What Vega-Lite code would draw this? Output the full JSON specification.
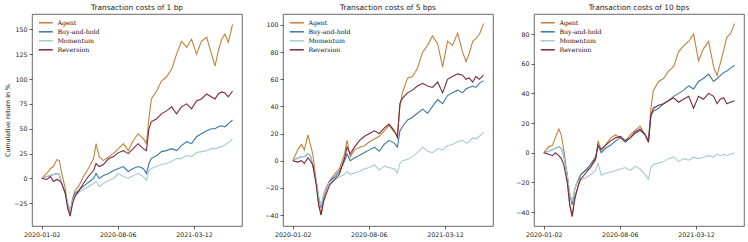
{
  "$schema": "https://vega.github.io/schema/vega-lite/v6.json",
  "padding": {"left": 4, "top": 3, "right": 0, "bottom": 0},
  "background": "white",
  "bounds": "flush",
  "spacing": 41,
  "config": {
    "font": "DejaVu Sans",
    "view": {"stroke": "#444", "strokeWidth": 0.8},
    "axis": {"labelFont": "DejaVu Sans", "labelFontSize": 6.3, "labelColor": "#222", "tickColor": "#333", "tickSize": 3, "tickWidth": 0.8, "labelPadding": 2, "domain": false, "grid": false, "titleFont": "DejaVu Sans", "titleFontSize": 6.3, "titleFontWeight": "normal", "titleColor": "#222"},
    "title": {"font": "DejaVu Sans", "fontSize": 7.4, "fontWeight": "normal", "color": "#222", "offset": 3},
    "legend": {"orient": "none", "legendX": 8.3, "legendY": 3.3, "padding": 0, "title": null, "labelFont": "DejaVu Serif", "labelFontSize": 6.3, "labelColor": "#111", "symbolType": "M-1.5,0H1.5", "symbolSize": 87, "symbolStrokeWidth": 1.5, "rowPadding": 0, "labelOffset": 6.1}
  },
  "datasets": {
    "p1": [
      {"d":"2020-01-02","Agent":0,"Buy-and-hold":0,"Momentum":0,"Reversion":0},
      {"d":"2020-01-16","Agent":5,"Buy-and-hold":2,"Momentum":2,"Reversion":-1},
      {"d":"2020-01-27","Agent":10,"Buy-and-hold":3,"Momentum":3,"Reversion":2},
      {"d":"2020-02-04","Agent":12,"Buy-and-hold":4,"Momentum":4,"Reversion":-3},
      {"d":"2020-02-14","Agent":19,"Buy-and-hold":5,"Momentum":5,"Reversion":-1},
      {"d":"2020-02-21","Agent":18,"Buy-and-hold":4,"Momentum":4,"Reversion":-2},
      {"d":"2020-02-28","Agent":5,"Buy-and-hold":-5,"Momentum":-5,"Reversion":-5},
      {"d":"2020-03-09","Agent":-10,"Buy-and-hold":-15,"Momentum":-15,"Reversion":-15},
      {"d":"2020-03-16","Agent":-28,"Buy-and-hold":-25,"Momentum":-25,"Reversion":-30},
      {"d":"2020-03-23","Agent":-35,"Buy-and-hold":-33,"Momentum":-33,"Reversion":-38},
      {"d":"2020-03-30","Agent":-20,"Buy-and-hold":-22,"Momentum":-22,"Reversion":-25},
      {"d":"2020-04-06","Agent":-12,"Buy-and-hold":-15,"Momentum":-17,"Reversion":-18},
      {"d":"2020-04-16","Agent":-8,"Buy-and-hold":-12,"Momentum":-14,"Reversion":-13},
      {"d":"2020-04-30","Agent":2,"Buy-and-hold":-8,"Momentum":-11,"Reversion":-5},
      {"d":"2020-05-14","Agent":10,"Buy-and-hold":-4,"Momentum":-8,"Reversion":2},
      {"d":"2020-05-29","Agent":20,"Buy-and-hold":0,"Momentum":-5,"Reversion":8},
      {"d":"2020-06-05","Agent":35,"Buy-and-hold":5,"Momentum":-3,"Reversion":15},
      {"d":"2020-06-14","Agent":22,"Buy-and-hold":0,"Momentum":-8,"Reversion":12},
      {"d":"2020-06-26","Agent":18,"Buy-and-hold":3,"Momentum":-5,"Reversion":14},
      {"d":"2020-07-11","Agent":22,"Buy-and-hold":5,"Momentum":-2,"Reversion":20},
      {"d":"2020-07-25","Agent":25,"Buy-and-hold":8,"Momentum":0,"Reversion":22},
      {"d":"2020-08-08","Agent":30,"Buy-and-hold":10,"Momentum":5,"Reversion":26},
      {"d":"2020-08-22","Agent":35,"Buy-and-hold":12,"Momentum":2,"Reversion":28},
      {"d":"2020-09-05","Agent":28,"Buy-and-hold":7,"Momentum":0,"Reversion":25},
      {"d":"2020-09-19","Agent":38,"Buy-and-hold":10,"Momentum":3,"Reversion":30},
      {"d":"2020-10-03","Agent":45,"Buy-and-hold":12,"Momentum":5,"Reversion":35},
      {"d":"2020-10-18","Agent":40,"Buy-and-hold":10,"Momentum":2,"Reversion":30},
      {"d":"2020-10-27","Agent":35,"Buy-and-hold":5,"Momentum":-2,"Reversion":28},
      {"d":"2020-11-03","Agent":60,"Buy-and-hold":15,"Momentum":8,"Reversion":50},
      {"d":"2020-11-10","Agent":80,"Buy-and-hold":20,"Momentum":10,"Reversion":57},
      {"d":"2020-11-25","Agent":88,"Buy-and-hold":23,"Momentum":12,"Reversion":60},
      {"d":"2020-12-09","Agent":98,"Buy-and-hold":27,"Momentum":14,"Reversion":65},
      {"d":"2020-12-23","Agent":102,"Buy-and-hold":28,"Momentum":15,"Reversion":68},
      {"d":"2021-01-07","Agent":110,"Buy-and-hold":30,"Momentum":17,"Reversion":72},
      {"d":"2021-01-21","Agent":125,"Buy-and-hold":28,"Momentum":20,"Reversion":65},
      {"d":"2021-02-04","Agent":138,"Buy-and-hold":33,"Momentum":20,"Reversion":72},
      {"d":"2021-02-19","Agent":132,"Buy-and-hold":37,"Momentum":23,"Reversion":75},
      {"d":"2021-03-05","Agent":140,"Buy-and-hold":35,"Momentum":22,"Reversion":70},
      {"d":"2021-03-19","Agent":125,"Buy-and-hold":42,"Momentum":26,"Reversion":78},
      {"d":"2021-04-02","Agent":138,"Buy-and-hold":45,"Momentum":27,"Reversion":80},
      {"d":"2021-04-17","Agent":142,"Buy-and-hold":48,"Momentum":28,"Reversion":85},
      {"d":"2021-05-01","Agent":125,"Buy-and-hold":50,"Momentum":30,"Reversion":82},
      {"d":"2021-05-11","Agent":113,"Buy-and-hold":50,"Momentum":30,"Reversion":80},
      {"d":"2021-05-20","Agent":128,"Buy-and-hold":52,"Momentum":31,"Reversion":85},
      {"d":"2021-05-30","Agent":140,"Buy-and-hold":53,"Momentum":32,"Reversion":87},
      {"d":"2021-06-08","Agent":145,"Buy-and-hold":52,"Momentum":34,"Reversion":86},
      {"d":"2021-06-18","Agent":137,"Buy-and-hold":55,"Momentum":36,"Reversion":82},
      {"d":"2021-06-30","Agent":155,"Buy-and-hold":59,"Momentum":40,"Reversion":88}
    ],
    "p2": [
      {"d":"2020-01-02","Agent":0,"Buy-and-hold":0,"Momentum":0,"Reversion":0},
      {"d":"2020-01-16","Agent":8,"Buy-and-hold":2,"Momentum":2,"Reversion":-1},
      {"d":"2020-01-27","Agent":12,"Buy-and-hold":3,"Momentum":3,"Reversion":0},
      {"d":"2020-02-04","Agent":8,"Buy-and-hold":3,"Momentum":3,"Reversion":-2},
      {"d":"2020-02-14","Agent":19,"Buy-and-hold":5,"Momentum":5,"Reversion":2},
      {"d":"2020-02-21","Agent":12,"Buy-and-hold":4,"Momentum":4,"Reversion":0},
      {"d":"2020-02-28","Agent":5,"Buy-and-hold":-3,"Momentum":-3,"Reversion":-3},
      {"d":"2020-03-09","Agent":-15,"Buy-and-hold":-15,"Momentum":-15,"Reversion":-18},
      {"d":"2020-03-16","Agent":-32,"Buy-and-hold":-27,"Momentum":-27,"Reversion":-33},
      {"d":"2020-03-23","Agent":-40,"Buy-and-hold":-35,"Momentum":-33,"Reversion":-40},
      {"d":"2020-03-30","Agent":-28,"Buy-and-hold":-25,"Momentum":-25,"Reversion":-30},
      {"d":"2020-04-06","Agent":-22,"Buy-and-hold":-20,"Momentum":-20,"Reversion":-25},
      {"d":"2020-04-16","Agent":-15,"Buy-and-hold":-15,"Momentum":-16,"Reversion":-18},
      {"d":"2020-04-30","Agent":-10,"Buy-and-hold":-12,"Momentum":-14,"Reversion":-14},
      {"d":"2020-05-14","Agent":-6,"Buy-and-hold":-8,"Momentum":-12,"Reversion":-10},
      {"d":"2020-05-29","Agent":5,"Buy-and-hold":0,"Momentum":-10,"Reversion":2},
      {"d":"2020-06-05","Agent":15,"Buy-and-hold":5,"Momentum":-8,"Reversion":10},
      {"d":"2020-06-14","Agent":3,"Buy-and-hold":0,"Momentum":-10,"Reversion":5},
      {"d":"2020-06-26","Agent":8,"Buy-and-hold":2,"Momentum":-9,"Reversion":10},
      {"d":"2020-07-11","Agent":10,"Buy-and-hold":4,"Momentum":-8,"Reversion":15},
      {"d":"2020-07-25","Agent":11,"Buy-and-hold":6,"Momentum":-6,"Reversion":18},
      {"d":"2020-08-08","Agent":14,"Buy-and-hold":8,"Momentum":-5,"Reversion":20},
      {"d":"2020-08-22","Agent":16,"Buy-and-hold":10,"Momentum":-3,"Reversion":22},
      {"d":"2020-09-05","Agent":18,"Buy-and-hold":7,"Momentum":-7,"Reversion":20},
      {"d":"2020-09-19","Agent":22,"Buy-and-hold":12,"Momentum":-4,"Reversion":24},
      {"d":"2020-10-03","Agent":26,"Buy-and-hold":15,"Momentum":-5,"Reversion":27},
      {"d":"2020-10-18","Agent":21,"Buy-and-hold":13,"Momentum":-6,"Reversion":22},
      {"d":"2020-10-27","Agent":19,"Buy-and-hold":10,"Momentum":-9,"Reversion":17},
      {"d":"2020-11-03","Agent":40,"Buy-and-hold":22,"Momentum":-2,"Reversion":42},
      {"d":"2020-11-10","Agent":50,"Buy-and-hold":25,"Momentum":0,"Reversion":46},
      {"d":"2020-11-25","Agent":61,"Buy-and-hold":30,"Momentum":1,"Reversion":50},
      {"d":"2020-12-09","Agent":62,"Buy-and-hold":32,"Momentum":3,"Reversion":52},
      {"d":"2020-12-23","Agent":68,"Buy-and-hold":35,"Momentum":6,"Reversion":55},
      {"d":"2021-01-07","Agent":80,"Buy-and-hold":38,"Momentum":10,"Reversion":57},
      {"d":"2021-01-21","Agent":85,"Buy-and-hold":35,"Momentum":7,"Reversion":55},
      {"d":"2021-02-04","Agent":92,"Buy-and-hold":40,"Momentum":6,"Reversion":54},
      {"d":"2021-02-19","Agent":86,"Buy-and-hold":45,"Momentum":9,"Reversion":58},
      {"d":"2021-03-05","Agent":69,"Buy-and-hold":42,"Momentum":8,"Reversion":50},
      {"d":"2021-03-19","Agent":88,"Buy-and-hold":48,"Momentum":11,"Reversion":60},
      {"d":"2021-04-02","Agent":85,"Buy-and-hold":50,"Momentum":12,"Reversion":62},
      {"d":"2021-04-17","Agent":94,"Buy-and-hold":52,"Momentum":14,"Reversion":64},
      {"d":"2021-05-01","Agent":80,"Buy-and-hold":50,"Momentum":15,"Reversion":63},
      {"d":"2021-05-11","Agent":73,"Buy-and-hold":53,"Momentum":13,"Reversion":60},
      {"d":"2021-05-20","Agent":79,"Buy-and-hold":54,"Momentum":14,"Reversion":61},
      {"d":"2021-05-30","Agent":88,"Buy-and-hold":55,"Momentum":17,"Reversion":58},
      {"d":"2021-06-08","Agent":90,"Buy-and-hold":54,"Momentum":16,"Reversion":62},
      {"d":"2021-06-18","Agent":93,"Buy-and-hold":57,"Momentum":18,"Reversion":60},
      {"d":"2021-06-30","Agent":101,"Buy-and-hold":59,"Momentum":21,"Reversion":63}
    ],
    "p3": [
      {"d":"2020-01-02","Agent":0,"Buy-and-hold":0,"Momentum":0,"Reversion":0},
      {"d":"2020-01-16","Agent":4,"Buy-and-hold":1,"Momentum":1,"Reversion":-1},
      {"d":"2020-01-27","Agent":5,"Buy-and-hold":2,"Momentum":2,"Reversion":-2},
      {"d":"2020-02-04","Agent":10,"Buy-and-hold":3,"Momentum":3,"Reversion":0},
      {"d":"2020-02-14","Agent":16,"Buy-and-hold":4,"Momentum":4,"Reversion":-2},
      {"d":"2020-02-21","Agent":12,"Buy-and-hold":3,"Momentum":3,"Reversion":-4},
      {"d":"2020-02-28","Agent":2,"Buy-and-hold":-2,"Momentum":-2,"Reversion":-8},
      {"d":"2020-03-09","Agent":-15,"Buy-and-hold":-15,"Momentum":-15,"Reversion":-20},
      {"d":"2020-03-16","Agent":-35,"Buy-and-hold":-28,"Momentum":-27,"Reversion":-35},
      {"d":"2020-03-23","Agent":-43,"Buy-and-hold":-35,"Momentum":-33,"Reversion":-43},
      {"d":"2020-03-30","Agent":-30,"Buy-and-hold":-25,"Momentum":-25,"Reversion":-32},
      {"d":"2020-04-06","Agent":-25,"Buy-and-hold":-20,"Momentum":-20,"Reversion":-25},
      {"d":"2020-04-16","Agent":-15,"Buy-and-hold":-15,"Momentum":-18,"Reversion":-18},
      {"d":"2020-04-30","Agent":-12,"Buy-and-hold":-12,"Momentum":-17,"Reversion":-14},
      {"d":"2020-05-14","Agent":-10,"Buy-and-hold":-8,"Momentum":-15,"Reversion":-10},
      {"d":"2020-05-29","Agent":-5,"Buy-and-hold":-3,"Momentum":-12,"Reversion":-4},
      {"d":"2020-06-05","Agent":8,"Buy-and-hold":5,"Momentum":-7,"Reversion":5},
      {"d":"2020-06-14","Agent":2,"Buy-and-hold":0,"Momentum":-15,"Reversion":2},
      {"d":"2020-06-26","Agent":5,"Buy-and-hold":3,"Momentum":-14,"Reversion":5},
      {"d":"2020-07-11","Agent":10,"Buy-and-hold":5,"Momentum":-13,"Reversion":8},
      {"d":"2020-07-25","Agent":12,"Buy-and-hold":8,"Momentum":-12,"Reversion":10},
      {"d":"2020-08-08","Agent":10,"Buy-and-hold":10,"Momentum":-11,"Reversion":11},
      {"d":"2020-08-22","Agent":8,"Buy-and-hold":7,"Momentum":-10,"Reversion":8},
      {"d":"2020-09-05","Agent":12,"Buy-and-hold":10,"Momentum":-12,"Reversion":10},
      {"d":"2020-09-19","Agent":15,"Buy-and-hold":13,"Momentum":-9,"Reversion":14},
      {"d":"2020-10-03","Agent":18,"Buy-and-hold":15,"Momentum":-11,"Reversion":16},
      {"d":"2020-10-18","Agent":12,"Buy-and-hold":12,"Momentum":-15,"Reversion":12},
      {"d":"2020-10-27","Agent":8,"Buy-and-hold":8,"Momentum":-18,"Reversion":7},
      {"d":"2020-11-03","Agent":30,"Buy-and-hold":25,"Momentum":-10,"Reversion":25},
      {"d":"2020-11-10","Agent":42,"Buy-and-hold":28,"Momentum":-8,"Reversion":30},
      {"d":"2020-11-25","Agent":48,"Buy-and-hold":30,"Momentum":-7,"Reversion":32},
      {"d":"2020-12-09","Agent":50,"Buy-and-hold":33,"Momentum":-6,"Reversion":33},
      {"d":"2020-12-23","Agent":55,"Buy-and-hold":35,"Momentum":-4,"Reversion":35},
      {"d":"2021-01-07","Agent":58,"Buy-and-hold":38,"Momentum":-3,"Reversion":37},
      {"d":"2021-01-21","Agent":68,"Buy-and-hold":40,"Momentum":-6,"Reversion":34},
      {"d":"2021-02-04","Agent":72,"Buy-and-hold":42,"Momentum":-4,"Reversion":36},
      {"d":"2021-02-19","Agent":75,"Buy-and-hold":45,"Momentum":-5,"Reversion":38},
      {"d":"2021-03-05","Agent":80,"Buy-and-hold":43,"Momentum":-3,"Reversion":30},
      {"d":"2021-03-19","Agent":62,"Buy-and-hold":48,"Momentum":-4,"Reversion":38},
      {"d":"2021-04-02","Agent":70,"Buy-and-hold":50,"Momentum":-3,"Reversion":36},
      {"d":"2021-04-17","Agent":75,"Buy-and-hold":53,"Momentum":-2,"Reversion":40},
      {"d":"2021-05-01","Agent":58,"Buy-and-hold":48,"Momentum":-3,"Reversion":38},
      {"d":"2021-05-11","Agent":52,"Buy-and-hold":50,"Momentum":-1,"Reversion":33},
      {"d":"2021-05-20","Agent":60,"Buy-and-hold":52,"Momentum":-2,"Reversion":36},
      {"d":"2021-05-30","Agent":69,"Buy-and-hold":54,"Momentum":-1,"Reversion":37},
      {"d":"2021-06-08","Agent":78,"Buy-and-hold":55,"Momentum":-2,"Reversion":33},
      {"d":"2021-06-18","Agent":80,"Buy-and-hold":57,"Momentum":-1,"Reversion":34},
      {"d":"2021-06-30","Agent":87,"Buy-and-hold":59,"Momentum":0,"Reversion":35}
    ]
  },
  "hconcat": [
    {
      "title": "Transaction costs of 1 bp",
      "width": 210, "height": 212,
      "data": {"name": "p1"},
      "transform": [{"fold": ["Agent", "Buy-and-hold", "Momentum", "Reversion"], "as": ["series", "value"]}],
      "mark": {"type": "line", "strokeWidth": 1.1},
      "encoding": {
        "x": {"field": "d", "type": "temporal", "scale": {"type": "utc", "domain": [{"year": 2019, "month": 12, "date": 5, "utc": true}, {"year": 2021, "month": 7, "date": 27, "utc": true}]}, "axis": {"values": [{"year": 2020, "month": 1, "date": 2, "utc": true}, {"year": 2020, "month": 8, "date": 6, "utc": true}, {"year": 2021, "month": 3, "date": 12, "utc": true}], "format": "%Y-%m-%d", "title": null, "labelAngle": 0, "labelOverlap": false}},
        "y": {"field": "value", "type": "quantitative", "scale": {"domain": [-47.8, 165.4], "nice": false, "zero": false}, "axis": {"values": [-25, 0, 25, 50, 75, 100, 125, 150], "title": "Cumulative return in %", "titlePadding": 3}},
        "color": {"field": "series", "type": "nominal", "scale": {"domain": ["Agent", "Buy-and-hold", "Momentum", "Reversion"], "range": ["#c0823b", "#3a76a6", "#a6cbd1", "#7a2939"]}, "legend": {}}
      }
    },
    {
      "title": "Transaction costs of 5 bps",
      "width": 210, "height": 212,
      "data": {"name": "p2"},
      "transform": [{"fold": ["Agent", "Buy-and-hold", "Momentum", "Reversion"], "as": ["series", "value"]}],
      "mark": {"type": "line", "strokeWidth": 1.1},
      "encoding": {
        "x": {"field": "d", "type": "temporal", "scale": {"type": "utc", "domain": [{"year": 2019, "month": 12, "date": 5, "utc": true}, {"year": 2021, "month": 7, "date": 27, "utc": true}]}, "axis": {"values": [{"year": 2020, "month": 1, "date": 2, "utc": true}, {"year": 2020, "month": 8, "date": 6, "utc": true}, {"year": 2021, "month": 3, "date": 12, "utc": true}], "format": "%Y-%m-%d", "title": null, "labelAngle": 0, "labelOverlap": false}},
        "y": {"field": "value", "type": "quantitative", "scale": {"domain": [-48.1, 108.1], "nice": false, "zero": false}, "axis": {"values": [-40, -20, 0, 20, 40, 60, 80, 100], "title": null}},
        "color": {"field": "series", "type": "nominal", "scale": {"domain": ["Agent", "Buy-and-hold", "Momentum", "Reversion"], "range": ["#c0823b", "#3a76a6", "#a6cbd1", "#7a2939"]}, "legend": {}}
      }
    },
    {
      "title": "Transaction costs of 10 bps",
      "width": 210, "height": 212,
      "data": {"name": "p3"},
      "transform": [{"fold": ["Agent", "Buy-and-hold", "Momentum", "Reversion"], "as": ["series", "value"]}],
      "mark": {"type": "line", "strokeWidth": 1.1},
      "encoding": {
        "x": {"field": "d", "type": "temporal", "scale": {"type": "utc", "domain": [{"year": 2019, "month": 12, "date": 5, "utc": true}, {"year": 2021, "month": 7, "date": 27, "utc": true}]}, "axis": {"values": [{"year": 2020, "month": 1, "date": 2, "utc": true}, {"year": 2020, "month": 8, "date": 6, "utc": true}, {"year": 2021, "month": 3, "date": 12, "utc": true}], "format": "%Y-%m-%d", "title": null, "labelAngle": 0, "labelOverlap": false}},
        "y": {"field": "value", "type": "quantitative", "scale": {"domain": [-49.4, 93.5], "nice": false, "zero": false}, "axis": {"values": [-40, -20, 0, 20, 40, 60, 80], "title": null}},
        "color": {"field": "series", "type": "nominal", "scale": {"domain": ["Agent", "Buy-and-hold", "Momentum", "Reversion"], "range": ["#c0823b", "#3a76a6", "#a6cbd1", "#7a2939"]}, "legend": {}}
      }
    }
  ],
  "resolve": {"scale": {"color": "independent", "y": "independent", "x": "independent"}, "legend": {"color": "independent"}}
}
